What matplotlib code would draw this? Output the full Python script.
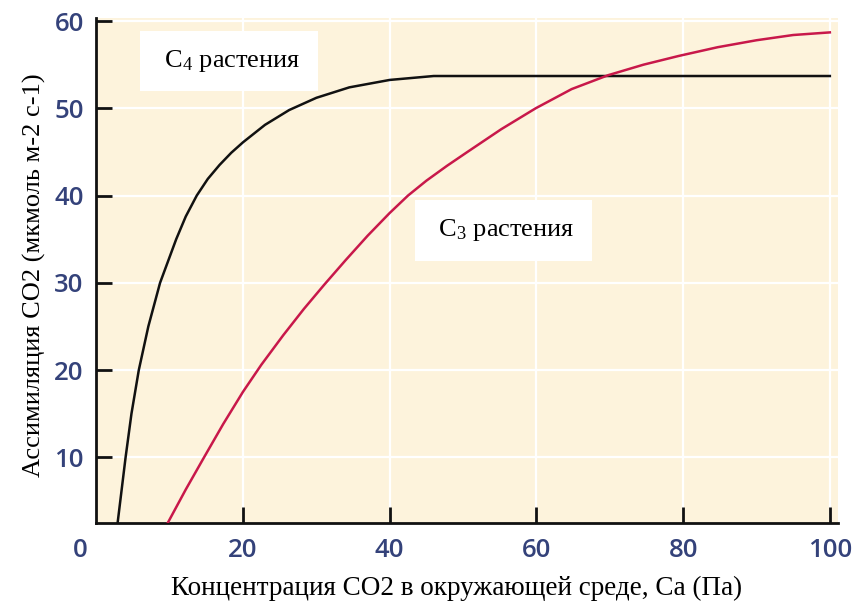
import matplotlib.pyplot as plt
from matplotlib.transforms import ScaledTranslation

plt.rcParams['mathtext.fontset'] = 'custom'
plt.rcParams['mathtext.rm'] = 'Liberation Serif'
plt.rcParams['mathtext.it'] = 'Liberation Serif:italic'

# C4 curve
c4_x = [2.9, 3.45, 4.0, 4.8, 5.8, 7.1, 8.7, 10.9, 12.2, 13.7, 15.2, 16.8, 18.4, 20, 23, 26.3, 30, 34.5, 40, 46, 100]
c4_y = [2.4, 6.2, 10, 15, 20, 25, 30, 35, 37.6, 40, 41.9, 43.5, 44.9, 46.1, 48.1, 49.8, 51.2, 52.4, 53.25, 53.7, 53.7]

# C3 curve
c3_x = [9.7, 12.2, 14.7, 17.3, 20.0, 22.5, 25.5, 28.3, 31.1, 34.0, 37.0, 40.0, 42.5, 45.0,
        47.8, 50.6, 55.2, 59.9, 64.8, 69.8, 74.6, 79.4, 84.7, 90.0, 95.0, 100]
c3_y = [2.4, 6.3, 10.0, 13.8, 17.5, 20.6, 24.0, 27.0, 29.8, 32.6, 35.4, 38.0, 40.0, 41.7,
        43.4, 45.0, 47.6, 50.0, 52.2, 53.8, 55.0, 56.0, 57.0, 57.8, 58.4, 58.7]

x_ticks = [0, 20, 40, 60, 80, 100]
y_ticks = [10, 20, 30, 40, 50, 60]

bg = '#fdf3dc'
tick_col = '#34427a'
serif = 'Liberation Serif'

fig = plt.figure(figsize=(8.61, 6.06), dpi=100)
ax = fig.add_axes([0.1118, 0.1375, 0.8614, 0.8328])
ax.set_facecolor(bg)

ax.plot(c4_x, c4_y, color='#111111', lw=1.8, zorder=3, solid_joinstyle='round')
ax.plot(c3_x, c3_y, color='#c8184a', lw=1.8, zorder=3, solid_joinstyle='round')

ax.set_xlim(0, 101.1)
ax.set_ylim(2.5, 60.35)
ax.set_xticks(x_ticks)
ax.set_yticks(y_ticks)
ax.grid(color='white', lw=1.6, zorder=1)
ax.set_axisbelow(True)

for s in ['top', 'right']:
    ax.spines[s].set_visible(False)
for s in ['left', 'bottom']:
    ax.spines[s].set_linewidth(2)
    ax.spines[s].set_color('#111111')

ax.tick_params(direction='in', length=11.5, width=2, color='#111111',
               labelsize=18.5, labelcolor=tick_col)
ax.tick_params(axis='y', pad=9)
ax.tick_params(axis='x', pad=11)
for lab in ax.get_xticklabels() + ax.get_yticklabels():
    lab.set_fontfamily('Open Sans')
    lab.set_fontweight('semibold')
ax.yaxis.get_major_ticks()[-1].tick1line.set_color('#888888')
ax.xaxis.get_major_ticks()[-1].tick1line.set_color('#888888')
ax.xaxis.get_major_ticks()[0].tick1line.set_visible(False)
zero = ax.get_xticklabels()[0]
zero.set_transform(zero.get_transform() + ScaledTranslation(-0.16, 0, fig.dpi_scale_trans))

ax.set_xlabel('Концентрация CO2 в окружающей среде, Ca (Па)', family=serif,
              fontsize=19.5, labelpad=9)
ax.set_ylabel('Ассимиляция CO2 (мкмоль м-2 с-1)', family=serif,
              fontsize=19, labelpad=6)
ax.xaxis.label.set_x(0.486)
ax.yaxis.label.set_y(0.49)

box = dict(boxstyle='square,pad=0.65', fc='white', ec='none')
ax.text(18.1, 55.4, ' C$_4$ растения ', family=serif, fontsize=19,
        ha='center', va='center', bbox=box, zorder=4)
ax.text(55.5, 36.0, ' C$_3$ растения ', family=serif, fontsize=19,
        ha='center', va='center', bbox=box, zorder=4)

fig.savefig('out.png', dpi=100)
